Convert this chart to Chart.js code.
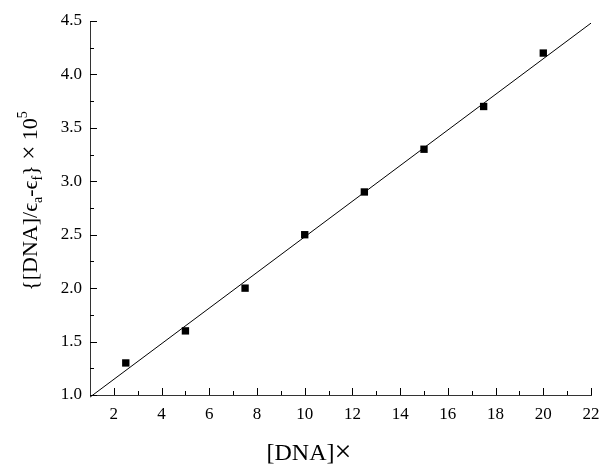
<!DOCTYPE html>
<html>
<head>
<meta charset="utf-8">
<script src="https://cdn.jsdelivr.net/npm/chart.js@4/dist/chart.umd.min.js"></script>
<style>
html,body{margin:0;padding:0;background:#fff;}
#wrap{width:601px;height:465px;position:relative;}
</style>
</head>
<body>
<div id="wrap"><canvas id="c" width="601" height="465"></canvas></div>
<script>
// Data
const dnaConc = [2.5, 5, 7.5, 10, 12.5, 15, 17.5, 20];
const ratioVals = [1.3, 1.6, 2.0, 2.5, 2.9, 3.3, 3.7, 4.2];
const fitX = [1, 22];
const fitY = [0.98, 4.48];
const xMajorTicks = [2, 4, 6, 8, 10, 12, 14, 16, 18, 20, 22];
const xMinorTicks = [3, 5, 7, 9, 11, 13, 15, 17, 19, 21];
const yMajorTicks = [1.0, 1.5, 2.0, 2.5, 3.0, 3.5, 4.0, 4.5];
const yMinorTicks = [1.25, 1.75, 2.25, 2.75, 3.25, 3.75, 4.25];
const xTitleRuns = [{t: '[DNA]', k: 'nx'}, {t: '×', k: 'symx'}];
const yTitleRuns = [
  {t: '{[DNA]/ϵ', k: 'n'}, {t: 'a', k: 'sub'}, {t: '-ϵ', k: 'n'}, {t: 'f', k: 'sub'},
  {t: '} ', k: 'n'}, {t: '×', k: 'sym'}, {t: ' 10', k: 'n'}, {t: '5', k: 'sup'}
];

const FONT = '"Liberation Serif", "Times New Roman", serif';

function runFont(k) {
  if (k === 'n') return '22px ' + FONT;
  if (k === 'nx') return '24px ' + FONT;
  if (k === 'sym') return '25px ' + FONT;
  if (k === 'symx') return '30px ' + FONT;
  return '14px ' + FONT;
}
function drawRuns(ctx, runs, x0, baseline) {
  let total = 0;
  runs.forEach(r => { ctx.font = runFont(r.k); r.w = ctx.measureText(r.t).width; total += r.w; });
  let x = x0 - total / 2;
  ctx.textAlign = 'left';
  ctx.textBaseline = 'alphabetic';
  runs.forEach(r => {
    ctx.font = runFont(r.k);
    const dy = r.k === 'sub' ? 5 : (r.k === 'sup' ? -10 : (r.k === 'symx' ? 1 : 0));
    ctx.fillText(r.t, x, baseline + dy);
    x += r.w;
  });
}

const tickPlugin = {
  id: 'inwardTicks',
  afterDraw(chart) {
    const ctx = chart.ctx;
    const xs = chart.scales.x, ys = chart.scales.y;
    const ca = chart.chartArea;
    ctx.save();
    ctx.strokeStyle = '#000';
    ctx.lineWidth = 1;
    ctx.beginPath();
    xMajorTicks.forEach(v => { const p = Math.round(xs.getPixelForValue(v)) + 0.5; ctx.moveTo(p, ca.bottom); ctx.lineTo(p, ca.bottom - 7); });
    xMinorTicks.forEach(v => { const p = Math.round(xs.getPixelForValue(v)) + 0.5; ctx.moveTo(p, ca.bottom); ctx.lineTo(p, ca.bottom - 4); });
    yMajorTicks.forEach(v => { const p = Math.round(ys.getPixelForValue(v)) + 0.5; ctx.moveTo(ca.left, p); ctx.lineTo(ca.left + 7, p); });
    yMinorTicks.forEach(v => { const p = Math.round(ys.getPixelForValue(v)) + 0.5; ctx.moveTo(ca.left, p); ctx.lineTo(ca.left + 4, p); });
    ctx.stroke();

    ctx.fillStyle = '#000';
    // x title
    drawRuns(ctx, xTitleRuns, 309, 460);

    // y title (rotated)
    ctx.translate(37, 201);
    ctx.rotate(-Math.PI / 2);
    drawRuns(ctx, yTitleRuns, 0, 0);
    ctx.restore();
  }
};

new Chart(document.getElementById('c'), {
  type: 'scatter',
  data: {
    datasets: [
      {
        label: 'data',
        data: dnaConc.map((x, i) => ({x, y: ratioVals[i]})),
        pointStyle: 'rect',
        pointRadius: 5.2,
        pointHoverRadius: 5.2,
        backgroundColor: '#000',
        borderColor: '#000',
        borderWidth: 0,
        showLine: false
      },
      {
        label: 'fit',
        data: fitX.map((x, i) => ({x, y: fitY[i]})),
        showLine: true,
        borderColor: '#000',
        borderWidth: 1,
        pointRadius: 0,
        fill: false,
        clip: false
      }
    ]
  },
  options: {
    responsive: false,
    animation: false,
    events: [],
    layout: {padding: {top: 21, right: 10, left: 0, bottom: 0}},
    plugins: {legend: {display: false}, tooltip: {enabled: false}},
    scales: {
      x: {
        type: 'linear',
        min: 1, max: 22,
        afterBuildTicks: s => { s.ticks = xMajorTicks.map(v => ({value: v})); },
        afterFit: s => { s.height = 70; s.paddingRight = 0; s.paddingLeft = 0; },
        grid: {display: true, drawOnChartArea: false, drawTicks: false},
        border: {display: true, color: '#333', width: 1},
        ticks: {
          color: '#000', font: {family: FONT, size: 17}, padding: 9,
          maxRotation: 0, autoSkip: false,
          callback: v => String(v)
        }
      },
      y: {
        type: 'linear',
        min: 1.0, max: 4.5,
        afterBuildTicks: s => { s.ticks = yMajorTicks.map(v => ({value: v})); },
        afterFit: s => { s.width = 90; s.paddingTop = 0; s.paddingBottom = 0; },
        grid: {display: true, drawOnChartArea: false, drawTicks: false},
        border: {display: true, color: '#333', width: 1},
        ticks: {
          color: '#000', font: {family: FONT, size: 17}, padding: 8,
          callback: v => Number(v).toFixed(1)
        }
      }
    }
  },
  plugins: [tickPlugin]
});
</script>
</body>
</html>
